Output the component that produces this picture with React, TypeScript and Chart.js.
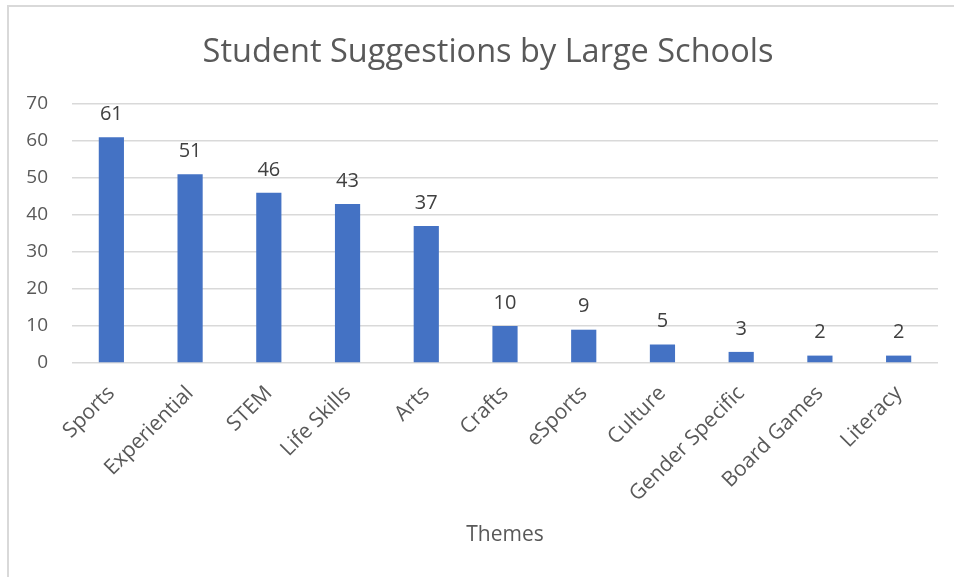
import React, { useEffect, useRef } from "react";
import { Chart, registerables } from "chart.js";

Chart.register(...registerables);

const categories = [
  "Sports",
  "Experiential",
  "STEM",
  "Life Skills",
  "Arts",
  "Crafts",
  "eSports",
  "Culture",
  "Gender Specific",
  "Board Games",
  "Literacy",
];
const suggestions = [61, 51, 46, 43, 37, 10, 9, 5, 3, 2, 2];
const chartTitle = "Student Suggestions by Large Schools";
const xAxisTitle = "Themes";

const FONT = "'Open Sans', 'Noto Sans', sans-serif";

const dataLabels = {
  id: "dataLabels",
  afterDatasetsDraw(chart: any) {
    const ctx = chart.ctx;
    const meta = chart.getDatasetMeta(0);
    ctx.save();
    ctx.font = `20px ${FONT}`;
    ctx.fillStyle = "#404040";
    ctx.textAlign = "center";
    ctx.textBaseline = "middle";
    meta.data.forEach((bar: any, i: number) => {
      const v = chart.data.datasets[0].data[i];
      ctx.fillText(String(v), bar.x, bar.y - 23);
    });
    ctx.restore();
  },
};

const titlePlugin = {
  id: "customTitle",
  afterDraw(chart: any) {
    const ctx = chart.ctx;
    ctx.save();
    ctx.font = `32.5px ${FONT}`;
    ctx.fillStyle = "#595959";
    ctx.textAlign = "center";
    ctx.textBaseline = "alphabetic";
    ctx.fillText(chartTitle, 488, 62);
    ctx.restore();
  },
};

export default function App() {
  const ref = useRef<HTMLCanvasElement | null>(null);
  useEffect(() => {
    if (!ref.current) return;
    const chart = new Chart(ref.current, {
      type: "bar",
      data: {
        labels: categories,
        datasets: [
          {
            data: suggestions,
            backgroundColor: "#4472C4",
            barPercentage: 0.32,
            categoryPercentage: 1,
          },
        ],
      },
      options: {
        animation: false,
        responsive: false,
        maintainAspectRatio: false,
        layout: { padding: { left: 0, right: 16, top: 104, bottom: 25 } },
        plugins: {
          legend: { display: false },
          tooltip: { enabled: false },
          title: { display: false },
        },
        scales: {
          x: {
            grid: { display: false, drawTicks: false },
            border: { display: false },
            ticks: {
              color: "#595959",
              font: { family: FONT, size: 21 },
              maxRotation: 45,
              minRotation: 45,
              autoSkip: false,
              padding: 18,
            },
            title: {
              display: true,
              text: xAxisTitle,
              color: "#595959",
              font: { family: FONT, size: 21 },
              padding: 4,
            },
            afterFit(scale: any) {
              scale.height = 189;
            },
          },
          y: {
            min: 0,
            max: 70,
            grid: { color: "#d9d9d9", lineWidth: 1.5, drawTicks: false },
            border: { display: false },
            ticks: {
              stepSize: 10,
              color: "#595959",
              font: { family: FONT, size: 19 },
              padding: 24,
            },
            afterFit(scale: any) {
              scale.width = 72;
            },
          },
        },
      },
      plugins: [dataLabels, titlePlugin],
    });
    return () => chart.destroy();
  }, []);

  return (
    <div
      style={{
        position: "fixed",
        left: 0,
        top: 0,
        width: 954,
        height: 577,
        background: "#fff",
        overflow: "hidden",
      }}
    >
      <div
        style={{
          position: "absolute",
          left: 7,
          top: 5,
          width: 1000,
          height: 1000,
          borderLeft: "2px solid #d9d9d9",
          borderTop: "2px solid #d9d9d9",
        }}
      />
      <canvas
        ref={ref}
        width={954}
        height={577}
        style={{ position: "absolute", left: 0, top: 0, width: 954, height: 577 }}
      />
    </div>
  );
}
